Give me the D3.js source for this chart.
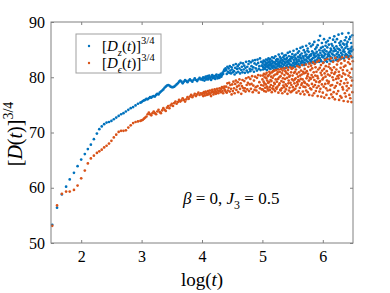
<!DOCTYPE html>
<html>
<head>
<meta charset="utf-8">
<script src="https://cdn.jsdelivr.net/npm/d3@7"></script>
<style>
body { margin: 0; background: #fff; }
svg { display: block; }
svg text { font-family: "Liberation Serif", "Times New Roman", "DejaVu Serif", serif; }
</style>
</head>
<body>
<div id="chart"></div>
<script>
// early, sparse samples (explicit log(t))
const logT_early = [1.52, 1.60, 1.68, 1.75, 1.81, 1.88, 1.94, 2.00, 2.06, 2.11, 2.16, 2.21, 2.26];
const Dz_early = [53.3, 56.4, 58.8, 60.2, 61.5, 62.7, 63.9, 65.1, 66.1, 67.0, 67.8, 68.8, 69.8];
const De_early = [53.1, 56.8, 58.9, 59.3, 59.3, 59.6, 60.4, 61.7, 63.1, 64.4, 65.3, 65.8, 66.3];

// regular segments: start log(t), spacing, values
const segB = {start: 2.30, step: 0.04};
const Dz_B = [70.6, 71.1, 71.5, 71.8, 71.9, 72.1, 72.4, 72.7, 73.0, 73.3, 73.5, 73.8, 74.1, 74.4, 74.6, 74.9, 75.2, 75.4];
const De_B = [66.6, 66.9, 67.3, 67.6, 68.0, 68.5, 69.1, 69.6, 70.1, 70.3, 70.3, 70.4, 70.9, 71.3, 71.7, 71.9, 72.0, 72.1];

const segC = {start: 3.00, step: 0.02};
const Dz_C = [
  75.5, 75.7, 75.8, 75.9, 76.1, 76.0, 76.2, 76.4, 76.3, 76.5,
  76.6, 76.5, 76.8, 77.0, 76.9, 77.2, 77.4, 77.6, 77.8, 78.1,
  78.3, 78.5, 78.6, 78.5, 78.3, 78.2, 78.2, 78.3, 78.5, 78.7,
  78.9, 79.2, 79.4, 79.2, 78.9, 79.2, 79.5, 79.3, 79.1, 79.4,
  79.6, 79.4, 79.2, 79.5, 79.8, 79.5, 79.3, 79.6, 79.9, 79.6];
const De_C = [
  72.2, 72.3, 72.5, 72.7, 72.9, 73.3, 73.6, 73.3, 73.1, 73.5,
  73.8, 73.5, 73.3, 73.8, 74.1, 73.7, 73.5, 74.0, 74.4, 74.1,
  73.9, 74.5, 74.8, 74.4, 74.9, 75.2, 74.8, 75.3, 75.6, 75.2,
  75.5, 75.9, 75.6, 75.8, 76.2, 75.9, 75.6, 76.0, 76.4, 76.1,
  76.5, 76.8, 76.4, 76.7, 77.0, 76.6, 76.9, 77.2, 76.8, 77.1];

const segD = {start: 4.00, step: 0.01};
const Dz_D = [
  79.7, 79.5, 80.0, 79.8, 79.4, 79.9, 80.1, 79.6, 79.8, 80.2,
  79.6, 79.9, 80.3, 80.0, 79.7, 79.5, 80.1, 80.4, 79.8, 80.0,
  80.2, 79.9, 79.7, 80.3, 80.5, 80.1, 79.8, 80.0, 80.4, 79.9,
  80.2, 80.6, 80.1, 80.4, 80.8, 80.6, 81.1, 81.4, 81.2, 81.6,
  81.3, 80.6, 81.9, 81.0, 81.6, 80.8, 82.0, 81.2, 80.7, 81.8,
  81.4, 80.9, 82.2, 81.1, 80.5, 81.7, 82.4, 80.8, 81.5, 82.0,
  81.0, 82.3, 81.6, 80.7, 82.6, 81.3, 81.9, 80.9, 82.5, 81.4,
  82.1, 80.8, 81.7, 82.8, 81.2, 81.9, 80.9, 82.4, 82.9, 81.5,
  81.1, 82.7, 82.0, 81.4, 83.0, 81.8, 81.0, 82.5, 83.1, 81.6,
  82.3, 81.2, 83.2, 82.6, 81.5, 82.0, 83.4, 81.3, 82.8, 82.1];
const De_D = [
  76.9, 77.1, 76.6, 77.3, 77.0, 76.7, 77.4, 77.2, 76.8, 77.0,
  77.5, 76.9, 77.2, 77.6, 77.0, 76.6, 77.3, 77.7, 77.4, 76.9,
  77.2, 77.8, 77.5, 77.0, 77.3, 77.9, 77.6, 77.1, 77.5, 78.0,
  77.6, 77.3, 77.9, 78.2, 77.5, 77.1, 78.0, 78.3, 77.7, 77.4,
  78.3, 77.2, 78.9, 77.6, 78.1, 79.0, 77.4, 78.6, 77.9, 76.9,
  78.7, 77.5, 79.2, 78.0, 77.1, 78.8, 79.4, 77.7, 78.3, 79.1,
  77.3, 78.5, 79.6, 77.9, 78.9, 77.0, 78.4, 79.5, 78.1, 77.6,
  79.3, 78.0, 77.4, 79.8, 78.6, 77.8, 79.0, 80.0, 77.5, 78.7,
  79.7, 77.9, 78.8, 80.2, 77.3, 78.5, 79.4, 77.7, 80.1, 78.2,
  77.6, 79.9, 78.4, 80.4, 77.2, 79.1, 78.0, 80.3, 78.6, 77.8];

const segE = {start: 5.00, step: 0.005};
const Dz_E = [
  82.1, 82.6, 81.4, 81.8, 83.0, 82.9, 81.7, 82.3, 82.2, 81.5,
  82.8, 81.9, 83.2, 82.4, 82.5, 81.3, 82.0, 83.1, 81.8, 82.7,
  83.4, 82.3, 82.1, 81.6, 82.9, 83.3, 82.6, 81.5, 82.2, 82.4,
  81.9, 83.0, 83.6, 82.5, 81.7, 82.8, 82.0, 82.1, 83.5, 81.4,
  82.7, 82.6, 81.8, 83.8, 82.3, 83.1, 81.6, 82.9, 82.4, 83.3,
  82.0, 81.5, 83.2, 82.7, 84.1, 82.2, 82.5, 81.9, 83.7, 82.8,
  83.0, 83.4, 82.1, 81.7, 82.6, 84.3, 83.1, 82.4, 81.8, 83.6,
  82.9, 82.2, 83.9, 83.3, 81.6, 82.7, 82.5, 84.0, 83.2, 82.0,
  81.9, 83.5, 82.8, 82.3, 84.4, 83.0, 81.8, 82.6, 83.8, 83.1,
  82.4, 84.6, 83.3, 82.1, 82.9, 83.7, 82.2, 81.7, 83.4, 84.2,
  83.6, 82.5, 82.0, 84.8, 83.1, 82.7, 83.9, 82.3, 81.9, 83.5,
  84.1, 82.6, 83.3, 83.0, 85.1, 82.2, 82.8, 84.4, 83.7, 82.4,
  83.2, 84.7, 82.9, 82.1, 83.6, 84.0, 85.3, 82.5, 83.4, 82.8,
  84.3, 83.0, 82.3, 85.5, 83.8, 82.7, 83.5, 84.9, 82.2, 83.1,
  82.6, 84.5, 83.9, 82.4, 83.2, 85.7, 84.1, 82.9, 83.6, 84.8,
  85.2, 82.8, 83.4, 84.6, 82.5, 83.7, 86.1, 84.0, 83.1, 82.7,
  83.9, 85.6, 84.2, 82.9, 83.3, 84.7, 82.6, 85.9, 83.5, 84.4,
  82.8, 84.0, 86.4, 83.6, 83.0, 85.1, 84.3, 82.7, 83.8, 85.4,
  84.6, 83.2, 82.9, 85.8, 84.1, 83.5, 86.7, 83.9, 82.8, 84.9,
  83.4, 87.5, 84.4, 83.1, 85.3, 82.9, 84.0, 86.2, 83.7, 84.8,
  85.5, 83.6, 82.7, 84.5, 86.9, 83.9, 85.0, 83.3, 84.2, 85.7,
  83.0, 86.3, 84.7, 83.5, 82.8, 85.4, 84.1, 86.6, 83.8, 84.4,
  85.9, 84.0, 83.2, 87.1, 84.6, 83.7, 85.2, 82.9, 84.9, 86.0,
  84.3, 83.5, 85.7, 84.1, 86.8, 83.0, 84.7, 85.3, 87.4, 83.9,
  85.0, 86.4, 83.4, 84.8, 83.1, 85.6, 84.2, 86.9, 83.7, 85.2,
  84.5, 83.2, 87.7, 85.1, 84.0, 86.2, 83.6, 84.9, 85.8, 83.3,
  86.5, 84.4, 83.8, 85.4, 87.9, 84.1, 83.5, 86.1, 84.7, 85.0,
  83.4, 85.9, 84.6, 86.7, 83.9, 85.3, 84.2, 87.2, 83.7, 86.0,
  85.6, 84.0, 86.4, 83.6, 85.1, 88.0, 84.5, 83.8, 86.9, 84.8,
  84.3, 87.3, 85.2, 83.9, 86.2, 84.7, 85.5, 83.6, 87.6, 85.0];
const De_E = [
  79.6, 77.8, 80.3, 78.5, 79.2, 80.6, 77.5, 78.9, 80.0, 78.1,
  80.5, 78.7, 77.4, 79.8, 80.8, 78.3, 79.4, 77.9, 80.2, 79.0,
  77.6, 80.4, 79.1, 81.0, 78.2, 77.7, 80.7, 79.5, 78.6, 80.1,
  79.3, 77.3, 80.9, 78.0, 79.9, 81.1, 78.4, 77.8, 80.3, 79.0,
  81.2, 78.8, 77.5, 80.5, 79.6, 78.1, 81.3, 77.9, 79.2, 80.6,
  78.3, 80.9, 79.7, 77.2, 81.4, 78.6, 80.0, 78.9, 81.0, 77.7,
  80.2, 77.6, 81.5, 79.3, 78.0, 80.7, 77.1, 81.2, 79.8, 78.5,
  79.1, 81.6, 78.2, 80.4, 77.4, 79.7, 81.1, 78.7, 77.8, 80.8,
  81.7, 78.4, 79.9, 77.0, 80.6, 81.3, 78.9, 79.4, 77.6, 80.1,
  78.1, 80.3, 81.8, 79.0, 77.3, 80.9, 78.6, 81.5, 79.6, 77.5,
  80.3, 78.2, 81.7, 79.4, 77.7, 80.8, 78.9, 79.6, 81.0, 77.9,
  79.8, 81.4, 78.4, 77.2, 80.6, 79.1, 82.0, 78.7, 80.1, 79.5,
  77.5, 80.9, 79.3, 81.8, 78.1, 80.3, 77.0, 79.7, 81.2, 78.6,
  80.5, 78.9, 82.2, 79.6, 77.4, 81.0, 78.3, 80.7, 79.2, 76.9,
  81.5, 79.0, 78.2, 80.8, 82.3, 77.6, 79.8, 81.1, 78.7, 80.2,
  77.3, 80.6, 81.9, 78.5, 79.4, 76.8, 82.5, 79.9, 78.0, 81.3,
  79.7, 82.1, 77.8, 80.4, 78.8, 81.6, 76.7, 80.0, 82.7, 78.3,
  80.9, 77.1, 79.5, 82.4, 78.6, 80.3, 81.8, 77.5, 79.2, 81.0,
  78.1, 82.8, 80.2, 76.6, 79.8, 81.4, 78.4, 83.0, 79.1, 77.4,
  81.7, 79.3, 77.9, 80.8, 82.2, 76.5, 80.4, 78.7, 81.2, 79.6,
  77.2, 82.6, 79.9, 78.3, 81.5, 76.3, 80.7, 83.1, 78.8, 80.1,
  82.0, 78.0, 76.8, 81.1, 79.4, 83.3, 77.6, 80.5, 78.9, 81.9,
  79.2, 76.2, 82.4, 80.3, 77.7, 81.6, 78.5, 83.4, 76.9, 80.8,
  81.3, 78.6, 80.0, 76.4, 82.8, 79.5, 77.3, 81.8, 80.6, 78.1,
  76.0, 80.9, 83.5, 78.4, 79.7, 81.4, 77.0, 82.3, 79.0, 80.2,
  82.9, 77.5, 79.8, 81.0, 75.9, 80.4, 83.2, 78.7, 76.6, 81.7,
  79.3, 82.5, 76.3, 80.1, 83.6, 78.2, 81.3, 77.8, 80.7, 75.7,
  81.9, 78.9, 83.0, 77.1, 80.5, 82.1, 76.5, 79.6, 83.7, 78.4,
  77.6, 81.2, 79.0, 75.6, 82.7, 80.3, 78.0, 83.3, 76.8, 80.8,
  82.4, 76.2, 80.0, 83.8, 78.5, 75.5, 81.5, 79.4, 77.3, 82.9];

const xTicks = [2, 3, 4, 5, 6];
const yTicks = [50, 60, 70, 80, 90];

const W = 390, H = 293;
const blueColor = '#0072BD', orangeColor = '#D95319';

const svg = d3.select('#chart').append('svg')
  .attr('width', W).attr('height', H);

const x = d3.scaleLinear().domain([1.5, 6.5]).range([51, 353]);
const y = d3.scaleLinear().domain([50, 90]).range([243, 22]);

function explicitPts(xs, ys) {
  return ys.map((v, i) => ({x: xs[i], y: v}));
}
function segPts(seg, ys) {
  return ys.map((v, i) => ({x: seg.start + i * seg.step, y: v}));
}

const dz = [].concat(
  explicitPts(logT_early, Dz_early), segPts(segB, Dz_B), segPts(segC, Dz_C),
  segPts(segD, Dz_D), segPts(segE, Dz_E));
const de = [].concat(
  explicitPts(logT_early, De_early), segPts(segB, De_B), segPts(segC, De_C),
  segPts(segD, De_D), segPts(segE, De_E));

// dots
const plot = svg.append('g');
plot.selectAll('circle.dz').data(dz).enter().append('circle')
  .attr('class', 'dz')
  .attr('cx', d => x(d.x)).attr('cy', d => y(d.y))
  .attr('r', 1.35).attr('fill', blueColor);
plot.selectAll('circle.de').data(de).enter().append('circle')
  .attr('class', 'de')
  .attr('cx', d => x(d.x)).attr('cy', d => y(d.y))
  .attr('r', 1.35).attr('fill', orangeColor);

// axes (ticks inward, on all 4 sides)
const axisColor = '#808080';
function styleAxis(g) {
  g.select('.domain').remove();
  g.attr('font-family', null);
  g.selectAll('.tick line').attr('stroke', axisColor);
  g.selectAll('.tick text').attr('fill', '#000').attr('font-size', 16);
}
const fmt = d3.format('d');
svg.append('g').attr('transform', 'translate(0,243)')
  .call(d3.axisBottom(x).tickValues(xTicks).tickFormat(fmt).tickSizeInner(-3).tickSizeOuter(0).tickPadding(8))
  .call(styleAxis);
svg.append('g').attr('transform', 'translate(0,22)')
  .call(d3.axisTop(x).tickValues(xTicks).tickSizeInner(-3).tickSizeOuter(0).tickFormat(''))
  .call(styleAxis);
svg.append('g').attr('transform', 'translate(51,0)')
  .call(d3.axisLeft(y).tickValues(yTicks).tickFormat(fmt).tickSizeInner(-3).tickSizeOuter(0).tickPadding(6))
  .call(styleAxis);
svg.append('g').attr('transform', 'translate(353,0)')
  .call(d3.axisRight(y).tickValues(yTicks).tickSizeInner(-3).tickSizeOuter(0).tickFormat(''))
  .call(styleAxis);

svg.append('rect')
  .attr('x', 51).attr('y', 22).attr('width', 302).attr('height', 221)
  .attr('fill', 'none').attr('stroke', axisColor).attr('stroke-width', 1);

// rich text helper: [text, kind] with kind '', 'i', 'sub', 'subi', 'sup'
function rich(textSel, parts, size) {
  let shift = 0;
  parts.forEach(([s, kind]) => {
    const t = textSel.append('tspan').text(s);
    let target = 0, fs = size;
    if (kind.indexOf('sub') >= 0) { target = size * 0.3; fs = size * 0.7; }
    if (kind.indexOf('sup') >= 0) { target = -size * 0.45; fs = size * 0.7; }
    if (kind === 'i' || kind === 'subi') t.attr('font-style', 'italic');
    t.attr('font-size', fs).attr('dy', target - shift);
    shift = target;
  });
}

// axis labels
const xl = svg.append('text').attr('x', 202).attr('y', 286)
  .attr('text-anchor', 'middle').attr('font-size', 19);
rich(xl, [['log(', ''], ['t', 'i'], [')', '']], 19);

const yl = svg.append('text')
  .attr('transform', 'translate(22,134) rotate(-90)')
  .attr('text-anchor', 'middle').attr('font-size', 20);
rich(yl, [['[', ''], ['D', 'i'], ['(', ''], ['t', 'i'], [')]', ''], ['3/4', 'sup']], 20);

// annotation
const ann = svg.append('text').attr('x', 183).attr('y', 204).attr('font-size', 17);
rich(ann, [['\u03B2', 'i'], [' = 0, ', ''], ['J', 'i'], ['3', 'sub'], [' = 0.5', '']], 17);

// legend
const lg = svg.append('g');
lg.append('rect').attr('x', 76).attr('y', 34).attr('width', 85).attr('height', 39)
  .attr('fill', '#fff').attr('stroke', '#a0a0a0').attr('stroke-width', 1);
const legendItems = [
  {sub: 'z', color: blueColor, yy: 46},
  {sub: '\u03F5', color: orangeColor, yy: 63}
];
legendItems.forEach(it => {
  lg.append('circle').attr('cx', 89).attr('cy', it.yy).attr('r', 1.2).attr('fill', it.color);
  const t = lg.append('text').attr('x', 102).attr('y', it.yy + 5).attr('font-size', 15);
  rich(t, [['[', ''], ['D', 'i'], [it.sub, 'subi'], ['(', ''], ['t', 'i'], [')]', ''], ['3/4', 'sup']], 15);
});
</script>
</body>
</html>
